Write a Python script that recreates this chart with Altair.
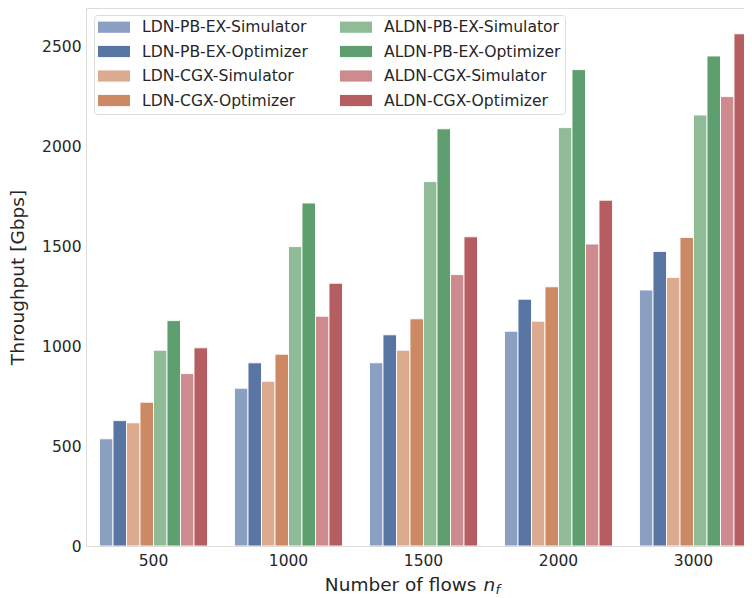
import altair as alt
import pandas as pd

groups = ["500", "1000", "1500", "2000", "3000"]
series = [
    "LDN-PB-EX-Simulator", "LDN-PB-EX-Optimizer",
    "LDN-CGX-Simulator", "LDN-CGX-Optimizer",
    "ALDN-PB-EX-Simulator", "ALDN-PB-EX-Optimizer",
    "ALDN-CGX-Simulator", "ALDN-CGX-Optimizer",
]
colors = ["#8a9fc1", "#5975a4", "#dcab8f", "#cc8963",
          "#8fbc97", "#5f9e6e", "#cd8b8f", "#b55d60"]

ldn_pb_sim = [536, 789, 916, 1074, 1280]
ldn_pb_opt = [627, 916, 1056, 1234, 1473]
ldn_cgx_sim = [616, 824, 979, 1124, 1343]
ldn_cgx_opt = [719, 959, 1136, 1296, 1543]
aldn_pb_sim = [979, 1497, 1822, 2092, 2155]
aldn_pb_opt = [1127, 1715, 2086, 2382, 2450]
aldn_cgx_sim = [862, 1149, 1357, 1510, 2247]
aldn_cgx_opt = [991, 1314, 1546, 1729, 2561]

all_vals = [ldn_pb_sim, ldn_pb_opt, ldn_cgx_sim, ldn_cgx_opt,
            aldn_pb_sim, aldn_pb_opt, aldn_cgx_sim, aldn_cgx_opt]

rows = []
for s, vals in zip(series, all_vals):
    for g, v in zip(groups, vals):
        rows.append({"flows": g, "series": s, "throughput": v})
df = pd.DataFrame(rows)

TXT = "#262626"
FONT = "DejaVu Sans"

bars = alt.Chart(df).mark_bar(stroke="white", strokeWidth=1, strokeOpacity=0.9,
                              clip=True).encode(
    x=alt.X("flows:N", sort=groups,
            scale=alt.Scale(paddingInner=0.2, paddingOuter=0.1, range=[0, 675]),
            axis=alt.Axis(title=None, labelAngle=0, ticks=False, domain=False,
                          labelPadding=7, labelFontSize=15.5, labelColor=TXT,
                          labelFont=FONT)),
    xOffset=alt.XOffset("series:N", sort=series,
                        scale=alt.Scale(paddingInner=0, paddingOuter=0)),
    y=alt.Y("throughput:Q",
            scale=alt.Scale(domain=[0, 2690], nice=False),
            axis=alt.Axis(values=[0, 500, 1000, 1500, 2000, 2500], format="d",
                          title="Throughput [Gbps]", grid=False, ticks=False,
                          domain=False, labelPadding=5, labelFontSize=15.5,
                          labelColor=TXT, labelFont=FONT, titleFontSize=18.5,
                          titleFont=FONT, titleFontWeight="normal",
                          titleColor=TXT, titlePadding=14)),
    color=alt.Color("series:N",
                    scale=alt.Scale(domain=series, range=colors),
                    legend=alt.Legend(title=None, orient="none", legendX=8,
                                      legendY=7, columns=2,
                                      symbolType="M-1,-0.7H3V0.7H-1Z",
                                      symbolSize=256, symbolStrokeWidth=0,
                                      symbolOpacity=1,
                                      labelFontSize=15.6, labelFont=FONT,
                                      labelColor=TXT, labelOffset=28,
                                      columnPadding=32, rowPadding=7.5,
                                      padding=4, strokeColor="#dcdcdc",
                                      fillColor="white", cornerRadius=3,
                                      labelLimit=300)),
)

title_main = alt.Chart(pd.DataFrame({"t": ["Number of flows"]})).mark_text(
    align="right", baseline="alphabetic", fontSize=18.5, font=FONT, color=TXT,
    dy=45
).encode(text="t:N", x=alt.value(390.5), y=alt.datum(0))

title_n = alt.Chart(pd.DataFrame({"t": ["n"]})).mark_text(
    align="left", baseline="alphabetic", fontSize=18.5, font=FONT, color=TXT,
    fontStyle="italic", dy=45
).encode(text="t:N", x=alt.value(397.5), y=alt.datum(0))

title_f = alt.Chart(pd.DataFrame({"t": ["f"]})).mark_text(
    align="left", baseline="alphabetic", fontSize=13, font=FONT, color=TXT,
    fontStyle="italic", dy=48
).encode(text="t:N", x=alt.value(409.5), y=alt.datum(0))

chart = alt.layer(bars, title_main, title_n, title_f).properties(
    width=736, height=589,
    autosize=alt.AutoSizeParams(type="fit", contains="padding"),
    padding={"left": 0, "top": 0, "right": 0, "bottom": 0},
).configure_view(stroke="#9a9a9a", strokeWidth=1.1).configure(
    font=FONT, background="white"
)

chart.save("out.html", embed_options={"renderer": "svg", "actions": False})
